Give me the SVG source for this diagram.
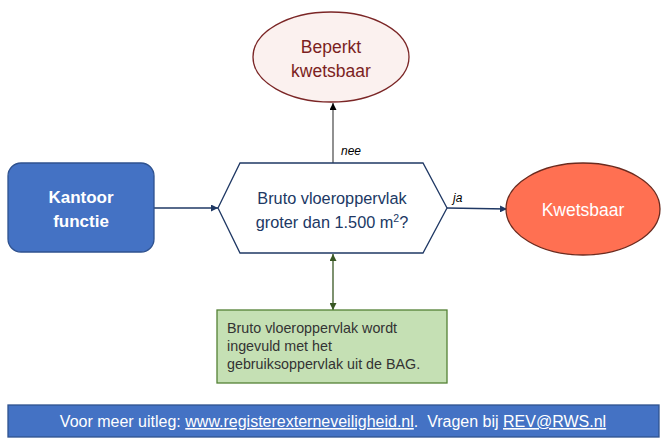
<svg xmlns="http://www.w3.org/2000/svg" width="667" height="444" viewBox="0 0 667 444">
<style>
text{font-family:"Liberation Sans",Arial,sans-serif}
.lbl{font-size:12px;font-style:italic;fill:#000}
.conn{fill:none;stroke-width:1.3}
.bag{font-size:14.3px;fill:#333}
</style>
<defs>
<marker id="aNavy" viewBox="0 0 10 10" refX="10" refY="5" markerWidth="7" markerHeight="7" orient="auto-start-reverse" markerUnits="userSpaceOnUse"><path d="M0,0L10,5L0,10z" fill="#1F3864"/></marker>
<marker id="aBlack" viewBox="0 0 10 10" refX="10" refY="5" markerWidth="7" markerHeight="7" orient="auto-start-reverse" markerUnits="userSpaceOnUse"><path d="M0,0L10,5L0,10z" fill="#000"/></marker>
<marker id="aGreen" viewBox="0 0 10 10" refX="10" refY="5" markerWidth="7" markerHeight="7" orient="auto-start-reverse" markerUnits="userSpaceOnUse"><path d="M0,0L10,5L0,10z" fill="#385723"/></marker>
</defs>
<rect width="667" height="444" fill="#fff"/>
<g id="connectors">
<line class="conn" x1="154" y1="208" x2="218" y2="208" stroke="#1F3864" marker-end="url(#aNavy)"/>
<line class="conn" x1="447" y1="208" x2="507" y2="209" stroke="#1F3864" marker-end="url(#aNavy)"/>
<line class="conn" x1="333" y1="163" x2="333" y2="103" stroke="#555" marker-end="url(#aBlack)"/>
<line class="conn" x1="333" y1="254" x2="333" y2="310" stroke="#385723" marker-start="url(#aGreen)" marker-end="url(#aGreen)"/>
<text class="lbl" x="341" y="155">nee</text>
<text class="lbl" x="453" y="202">ja</text>
</g>
<g id="beperkt">
<ellipse cx="331" cy="57" rx="78" ry="45" fill="#FBF1EF" stroke="#7B2626" stroke-width="1.3"/>
<text x="331" y="53" text-anchor="middle" font-size="17.5" fill="#7B1F22">Beperkt</text>
<text x="331" y="77" text-anchor="middle" font-size="17.5" fill="#7B1F22">kwetsbaar</text>
</g>
<g id="kantoor">
<rect x="8" y="163" width="146" height="89" rx="13" fill="#4472C4" stroke="#2F528F" stroke-width="1.3"/>
<text x="81" y="203" text-anchor="middle" font-size="17" font-weight="bold" fill="#fff">Kantoor</text>
<text x="81" y="227" text-anchor="middle" font-size="17" font-weight="bold" fill="#fff">functie</text>
</g>
<g id="vraag">
<polygon points="218,208 240,163 423,163 447,208 423,253 240,253" fill="#fff" stroke="#1F3864" stroke-width="1.3"/>
<text x="332" y="204" text-anchor="middle" font-size="16.3" fill="#203864">Bruto vloeroppervlak</text>
<text x="332" y="228" text-anchor="middle" font-size="16.3" fill="#203864">groter dan 1.500 m<tspan font-size="10.5" dy="-6">2</tspan><tspan dy="6">?</tspan></text>
</g>
<g id="kwetsbaar">
<ellipse cx="583" cy="209" rx="77" ry="46" fill="#FF7052" stroke="#6B2A1E" stroke-width="1.3"/>
<text x="583" y="216" text-anchor="middle" font-size="17.5" fill="#fff">Kwetsbaar</text>
</g>
<g id="bag">
<rect x="217" y="310" width="230" height="73" fill="#C5E0B4" stroke="#538135" stroke-width="1.3"/>
<text class="bag" x="227" y="333">Bruto vloeroppervlak wordt</text>
<text class="bag" x="227" y="351">ingevuld met het</text>
<text class="bag" x="227" y="369">gebruiksoppervlak uit de BAG.</text>
</g>
<g id="footer">
<rect x="8" y="405" width="651" height="32" fill="#4472C4" stroke="#2F528F" stroke-width="1.3"/>
<text x="333" y="427" text-anchor="middle" font-size="16" fill="#fff">Voor meer uitleg: <tspan text-decoration="underline">www.registerexterneveiligheid.nl</tspan>.&#160; Vragen bij <tspan text-decoration="underline">REV@RWS.nl</tspan></text>
</g>
</svg>
